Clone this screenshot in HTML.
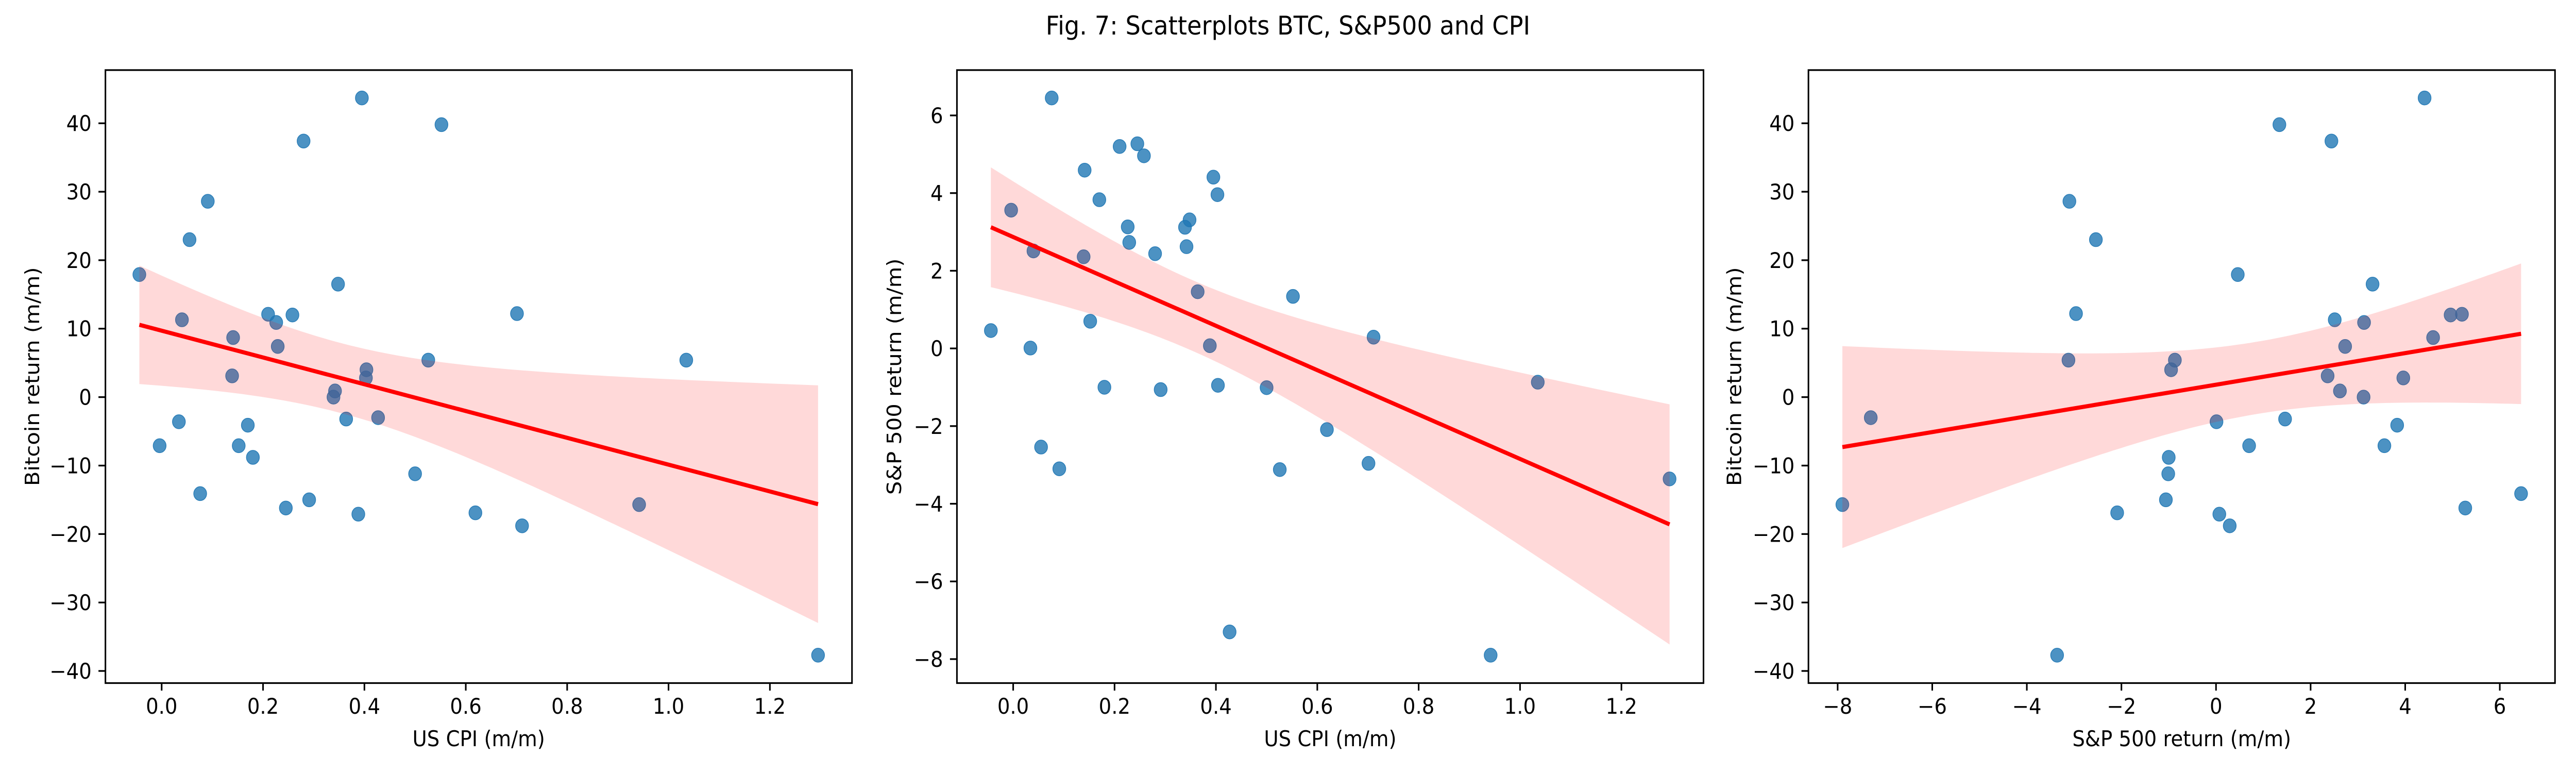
<!DOCTYPE html>
<html><head><meta charset="utf-8"><style>
html,body{margin:0;padding:0;background:#fff;width:100vw;height:100vh;overflow:hidden;}
svg{display:block;width:100vw;height:100vh;}
text{font-family:"DejaVu Sans","Liberation Sans",sans-serif;fill:#000;}
</style></head><body>
<svg id="fig" viewBox="0 0 5400 1500" preserveAspectRatio="none" xmlns="http://www.w3.org/2000/svg">
<rect width="5400" height="1500" fill="#fff"/>
<text x="2700" y="67" text-anchor="middle" font-size="50">Fig. 7: Scatterplots BTC, S&amp;P500 and CPI</text>
</svg>
<script>
// paired monthly observations
const cpi = [-0.044,0.040,-0.004,0.034,0.055,0.091,0.076,0.141,0.139,0.152,0.170,0.180,0.210,0.226,0.229,0.258,0.245,0.280,0.291,0.348,0.342,0.339,0.364,0.388,0.395,0.403,0.404,0.427,0.500,0.526,0.552,0.619,0.701,0.711,0.942,1.035,1.295];
const btc = [17.9,11.3,-7.1,-3.6,23.0,28.6,-14.1,8.7,3.1,-7.1,-4.1,-8.8,12.1,10.9,7.4,12.0,-16.2,37.4,-15.0,16.5,0.9,0.0,-3.2,-17.1,43.7,2.8,4.0,-3.0,-11.2,5.4,39.8,-16.9,12.2,-18.8,-15.7,5.4,-37.7];
const spx = [0.46,2.51,3.56,0.01,-2.54,-3.10,6.45,4.59,2.36,0.70,3.83,-1.00,5.20,3.13,2.73,4.96,5.27,2.44,-1.06,3.31,2.62,3.12,1.46,0.07,4.41,3.96,-0.95,-7.30,-1.01,-3.12,1.34,-2.09,-2.96,0.29,-7.90,-0.87,-3.36];
const cpiTicks = [0.0,0.2,0.4,0.6,0.8,1.0,1.2];
const cpiTickLabels = ["0.0","0.2","0.4","0.6","0.8","1.0","1.2"];
const btcTicks = [-40,-30,-20,-10,0,10,20,30,40];
const spxYTicks = [-8,-6,-4,-2,0,2,4,6];
const spxXTicks = [-8,-6,-4,-2,0,2,4,6];

const NS="http://www.w3.org/2000/svg";
const svg=document.getElementById('fig');
function mk(tag,attrs,parent){const e=document.createElementNS(NS,tag);for(const k in attrs)e.setAttribute(k,attrs[k]);(parent||svg).appendChild(e);return e;}
function fmt(v){return (v<0?"\u2212":"")+Math.abs(v);}

function lims(a){const mn=Math.min(...a),mx=Math.max(...a),m=(mx-mn)*0.05;return [mn-m,mx+m];}

function panel(idx,left,xs,ys,xlab,ylab,xticks,xtl,yticks,ylabX){
  const top=136,W=1565,H=1189.5,bottom=top+H;
  const g=mk('g',{});
  
  
  const [x0,x1]=lims(xs),[y0,y1]=lims(ys);
  const sx=v=>left+(v-x0)/(x1-x0)*W;
  const sy=v=>bottom-(v-y0)/(y1-y0)*H;
  for(let i=0;i<xs.length;i++){
    const c=mk('circle',{cx:sx(xs[i]),cy:sy(ys[i]),r:13.5,fill:'#1f77b4','fill-opacity':0.8,stroke:'#1f77b4','stroke-opacity':0.9,'stroke-width':1.5},g);
    
    
  }
  const n=xs.length,mx=xs.reduce((a,b)=>a+b)/n,my=ys.reduce((a,b)=>a+b)/n;
  let sxx=0,sxy=0;for(let i=0;i<n;i++){sxx+=(xs[i]-mx)**2;sxy+=(xs[i]-mx)*(ys[i]-my);}
  const b=sxy/sxx,a=my-b*mx;
  let sse=0;for(let i=0;i<n;i++)sse+=(ys[i]-a-b*xs[i])**2;
  const s=Math.sqrt(sse/(n-2)),t=1.85;
  const xmin=Math.min(...xs),xmax=Math.max(...xs);
  let up=[],lo=[];
  for(let k=0;k<=100;k++){const x=xmin+(xmax-xmin)*k/100;const yh=a+b*x;const h=t*s*Math.sqrt(1/n+(x-mx)**2/sxx);
    up.push(sx(x).toFixed(1)+','+sy(yh+h).toFixed(1));lo.unshift(sx(x).toFixed(1)+','+sy(yh-h).toFixed(1));}
  const band=mk('polygon',{points:up.concat(lo).join(' '),fill:'#ff0000','fill-opacity':0.15},g);
  
  
  const ln=mk('line',{x1:sx(xmin),y1:sy(a+b*xmin),x2:sx(xmax),y2:sy(a+b*xmax),stroke:'#ff0000','stroke-width':8},g);
  
  
  const fr=mk('rect',{x:left,y:top,width:W,height:H,fill:'none',stroke:'#000','stroke-width':3.3},g);
  
  
  xticks.forEach((v,i)=>{const X=sx(v);
    mk('line',{x1:X,y1:bottom,x2:X,y2:bottom+14.6,stroke:'#000','stroke-width':3.3},g);
    const tx=mk('text',{x:X,y:1385,'text-anchor':'middle','font-size':41.7},g);
    tx.textContent=xtl?xtl[i]:fmt(v);
    
    });
  yticks.forEach(v=>{const Y=sy(v);
    mk('line',{x1:left,y1:Y,x2:left-14.6,y2:Y,stroke:'#000','stroke-width':3.3},g);
    const tx=mk('text',{x:left-29,y:Y+15,'text-anchor':'end','font-size':41.7},g);
    tx.textContent=fmt(v);
    
    });
  const xl=mk('text',{x:left+W/2,y:1448,'text-anchor':'middle','font-size':41.7},g);
  xl.textContent=xlab;
  
  
  const yl=mk('text',{x:ylabX,y:top+H/2,'text-anchor':'middle','font-size':41.7,transform:'rotate(-90 '+ylabX+' '+(top+H/2)+')'},g);
  yl.textContent=ylab;
  
  
}
panel(0,221,cpi,btc,"US CPI (m/m)","Bitcoin return (m/m)",cpiTicks,cpiTickLabels,btcTicks,82);
panel(1,2006,cpi,spx,"US CPI (m/m)","S&P 500 return (m/m)",cpiTicks,cpiTickLabels,spxYTicks,1889);
panel(2,3791,spx,btc,"S&P 500 return (m/m)","Bitcoin return (m/m)",spxXTicks,null,btcTicks,3650);
</script>
</body></html>
